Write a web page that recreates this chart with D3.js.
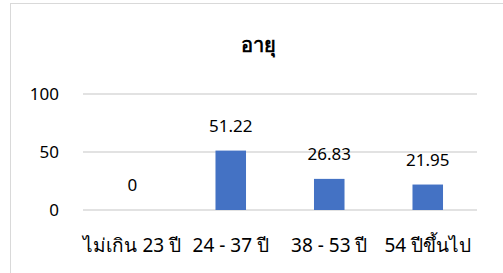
<!DOCTYPE html>
<html>
<head>
<meta charset="utf-8">
<script src="https://cdn.jsdelivr.net/npm/d3@7"></script>
<style>
  body { margin: 0; background: #fff; }
  svg { display: block; font-family: "Noto Sans", "DejaVu Sans", sans-serif; }
</style>
</head>
<body>
<div id="chart"></div>
<script>
const categories = ["ไม่เกิน 23 ปี", "24 - 37 ปี", "38 - 53 ปี", "54 ปีขึ้นไป"];
const values = [0, 51.22, 26.83, 21.95];
const yTicks = [0, 50, 100];
const title = "อายุ";

const width = 503;
const height = 273;
const margin = { top: 94, right: 26, bottom: 63, left: 83 };

const svg = d3.select("#chart")
              .append("svg")
              .attr("width", width)
              .attr("height", height);

// chart frame
svg.append("rect")
   .attr("x", 10.5)
   .attr("y", 3.5)
   .attr("width", 500)
   .attr("height", 280)
   .attr("fill", "#fff")
   .attr("stroke", "#d9d9d9");

const xScale = d3.scaleBand()
                 .domain(categories)
                 .range([margin.left, width - margin.right])
                 .paddingInner(0.69)
                 .paddingOuter(0.345);

const yScale = d3.scaleLinear()
                 .domain([0, 100])
                 .range([height - margin.bottom, margin.top]);

// gridlines
svg.append("g")
   .selectAll("line")
   .data(yTicks)
   .enter()
   .append("line")
   .attr("x1", margin.left)
   .attr("x2", width - margin.right)
   .attr("y1", d => Math.round(yScale(d)))
   .attr("y2", d => Math.round(yScale(d)))
   .attr("stroke", "#d9d9d9")
   .attr("stroke-width", 1.5);

// y axis labels
const yAxis = d3.axisLeft(yScale)
                .tickValues(yTicks)
                .tickSize(0)
                .tickPadding(0);

svg.append("g")
   .attr("transform", `translate(${margin.left - 24},0)`)
   .call(yAxis)
   .call(g => g.select(".domain").remove())
   .selectAll("text")
   .attr("font-size", 17)
   .attr("fill", "#000")
   .attr("font-family", "Noto Sans, sans-serif");

// x axis labels
const xAxis = d3.axisBottom(xScale)
                .tickSize(0)
                .tickPadding(0);

svg.append("g")
   .attr("transform", `translate(0,${yScale(0) + 28})`)
   .call(xAxis)
   .call(g => g.select(".domain").remove())
   .selectAll("text")
   .attr("font-size", 19)
   .attr("fill", "#000")
   .attr("font-family", "Noto Sans, sans-serif");

// bars
svg.selectAll("rect.bar")
   .data(values)
   .enter()
   .append("rect")
   .attr("class", "bar")
   .attr("x", (d, i) => xScale(categories[i]))
   .attr("y", d => yScale(d))
   .attr("width", xScale.bandwidth())
   .attr("height", d => yScale(0) - yScale(d))
   .attr("fill", "#4472c4");

// value labels
svg.selectAll("text.value")
   .data(values)
   .enter()
   .append("text")
   .attr("class", "value")
   .attr("x", (d, i) => xScale(categories[i]) + xScale.bandwidth() / 2)
   .attr("y", d => yScale(d) - 19)
   .attr("text-anchor", "middle")
   .attr("font-size", 17)
   .attr("fill", "#000")
   .text(d => d);

// title
svg.append("text")
   .attr("x", 258)
   .attr("y", 52)
   .attr("text-anchor", "middle")
   .attr("font-size", 20)
   .attr("font-weight", "bold")
   .attr("fill", "#000")
   .text(title);
</script>
</body>
</html>
